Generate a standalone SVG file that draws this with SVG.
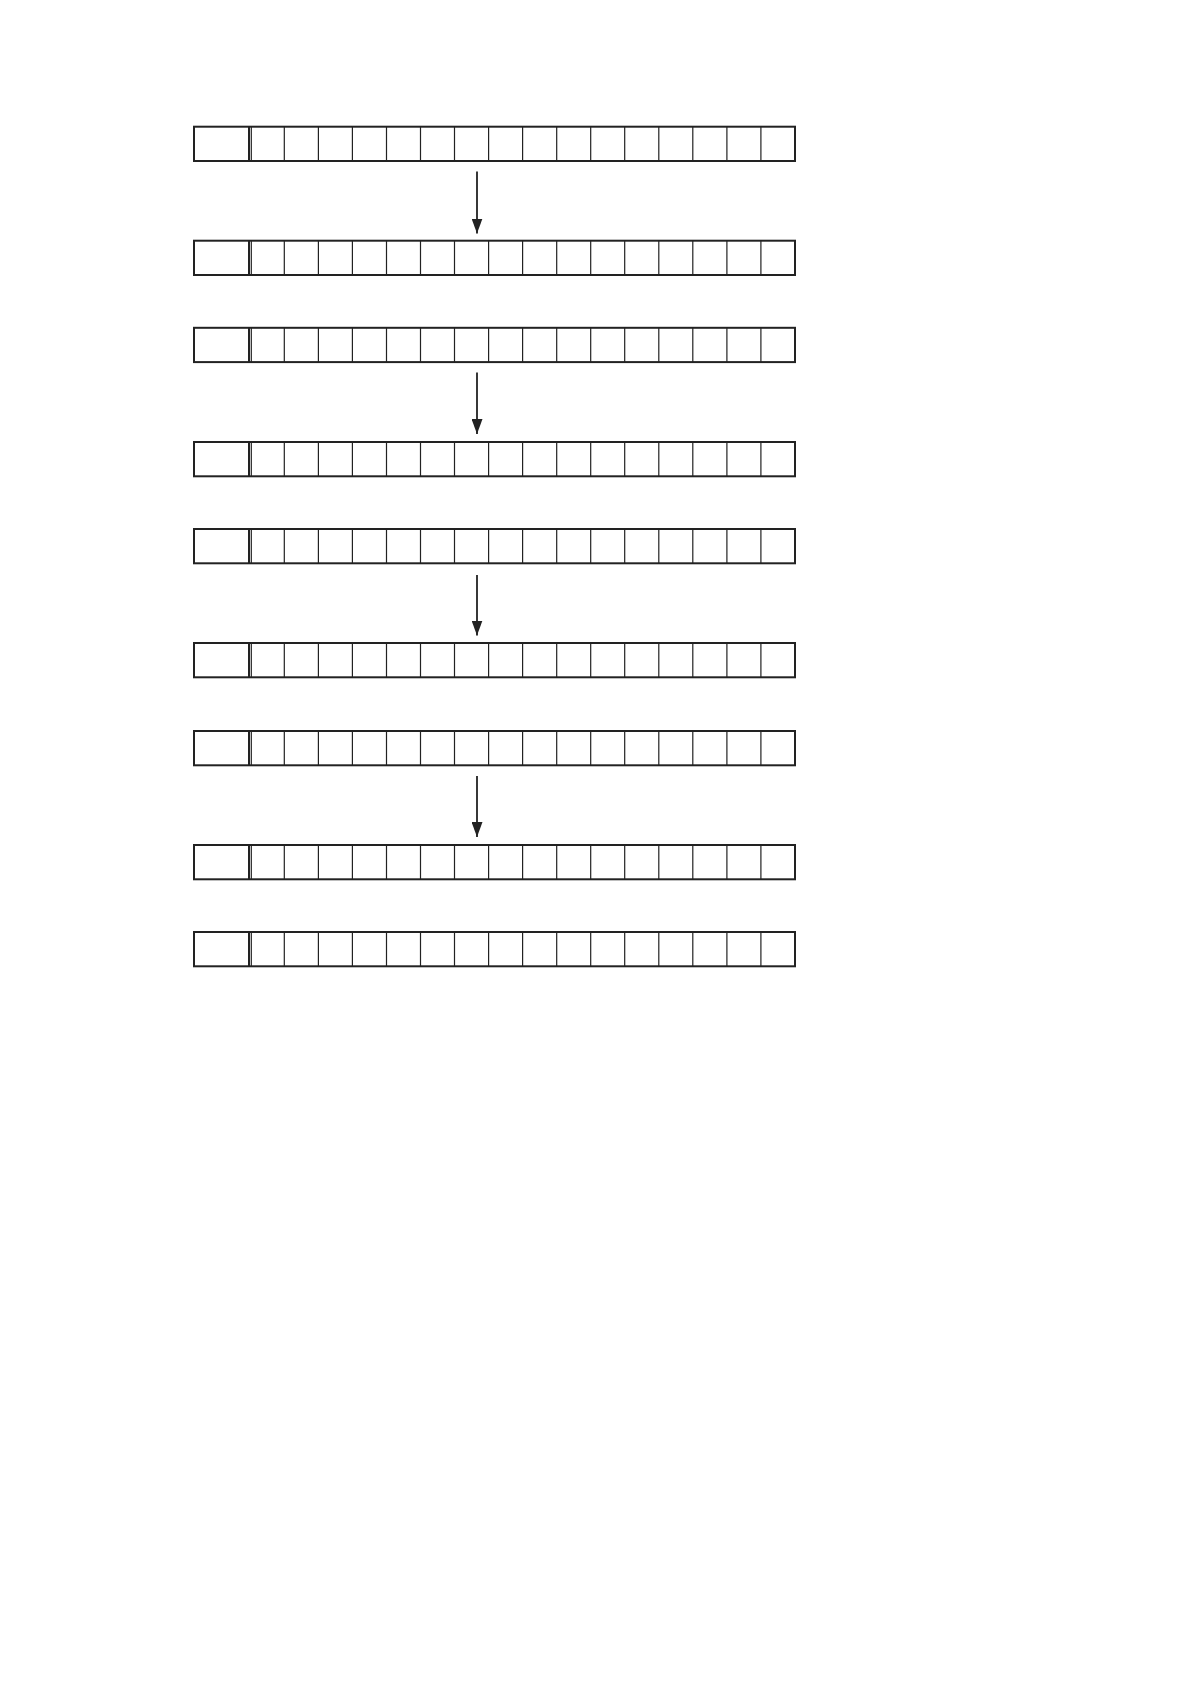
<svg xmlns="http://www.w3.org/2000/svg" xmlns:xlink="http://www.w3.org/1999/xlink" width="1191" height="1684" viewBox="0 0 1191 1684">
<style>
.outer{fill:#fff;stroke:#222;stroke-width:2}
.thick{stroke:#222;stroke-width:2}
.thin{stroke:#222;stroke-width:1.2}
.conn{stroke:#222;stroke-width:1.8;fill:none}
</style>
<defs>
<marker id="ah" markerWidth="15" markerHeight="11" refX="15" refY="5.5" orient="auto" markerUnits="userSpaceOnUse" viewBox="0 0 15 11">
<path d="M0,0 L15,5.5 L0,11 Z" fill="#222"/>
</marker>
<g id="row">
<rect class="outer" x="194" y="0" width="601" height="34.3"/>
<line class="thick" x1="249" y1="0" x2="249" y2="34.3"/>
<line class="thin" x1="251.3" y1="0" x2="251.3" y2="34.3"/>
<path class="thin" d="M284.3,0V34.3M318.4,0V34.3M352.4,0V34.3M386.5,0V34.3M420.5,0V34.3M454.5,0V34.3M488.6,0V34.3M522.6,0V34.3M556.7,0V34.3M590.7,0V34.3M624.7,0V34.3M658.8,0V34.3M692.8,0V34.3M726.9,0V34.3M760.9,0V34.3"/>
</g>
</defs>
<rect width="1191" height="1684" fill="#fff"/>
<g id="row1" transform="translate(0,126.7)"><use xlink:href="#row"/></g>
<g id="row2" transform="translate(0,240.7)"><use xlink:href="#row"/></g>
<g id="row3" transform="translate(0,327.8)"><use xlink:href="#row"/></g>
<g id="row4" transform="translate(0,442)"><use xlink:href="#row"/></g>
<g id="row5" transform="translate(0,529)"><use xlink:href="#row"/></g>
<g id="row6" transform="translate(0,643)"><use xlink:href="#row"/></g>
<g id="row7" transform="translate(0,731)"><use xlink:href="#row"/></g>
<g id="row8" transform="translate(0,845)"><use xlink:href="#row"/></g>
<g id="row9" transform="translate(0,932)"><use xlink:href="#row"/></g>
<g id="connectors">
<line class="conn" x1="477" y1="171.5" x2="477" y2="233.5" marker-end="url(#ah)"/>
<line class="conn" x1="477" y1="372.5" x2="477" y2="434" marker-end="url(#ah)"/>
<line class="conn" x1="477" y1="575" x2="477" y2="635.5" marker-end="url(#ah)"/>
<line class="conn" x1="477" y1="776" x2="477" y2="837" marker-end="url(#ah)"/>
</g>
</svg>
